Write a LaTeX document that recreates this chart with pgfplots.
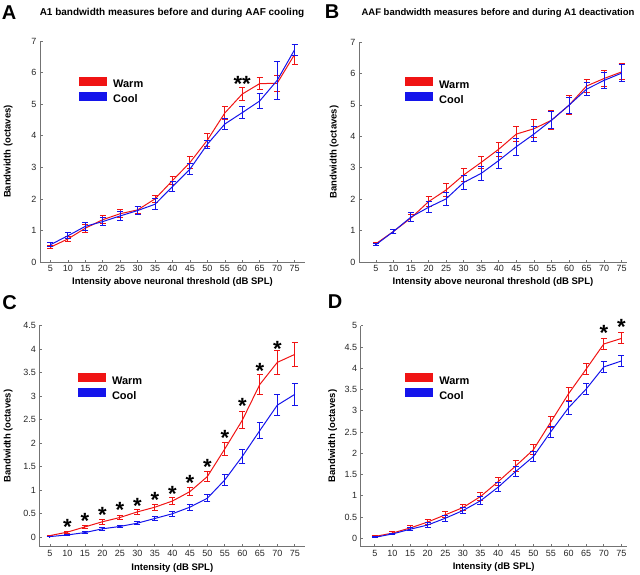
\documentclass[border=0pt]{standalone}
\usepackage{pgfplots}
\pgfplotsset{compat=1.18}
\usepackage{fontspec}
\setmainfont{Liberation Sans}
\setsansfont{Liberation Sans}
\definecolor{wred}{RGB}{240,20,20}
\definecolor{cblue}{RGB}{20,20,235}
\pgfplotsset{
  panel/.style={
    scale only axis, clip=false,
    axis lines*=left, tick align=inside, major tick length=2.5pt,
    axis line style={black!55, line width=0.6pt},
    tick style={black!55, line width=0.6pt},
    xtick={5,10,...,75},
    tick label style={font=\fontsize{9}{10}\selectfont, text=black!85},
    /pgf/number format/assume math mode=true,
    label style={font=\bfseries\fontsize{9.5}{11}\selectfont},
    xlabel style={at={(axis description cs:0.5,0)}, anchor=center, yshift=-20pt},
    legend style={draw=none, fill=none, font=\bfseries\fontsize{11}{13}\selectfont, anchor=north west, row sep=1pt, inner sep=0pt, nodes={inner sep=1.5pt}},
    legend cell align=left,
    legend image code/.code={\draw[line width=9pt] (0pt,0.35em) -- (28pt,0.35em);},
  },
  warm/.style={wred, line width=1pt, mark=none, error bars/.cd, y dir=both, y explicit, error bar style={line width=1pt, draw=wred}, error mark options={color=wred, draw=wred, mark size=3pt, line width=1pt, rotate=90}},
  cool/.style={cblue, line width=1pt, mark=none, error bars/.cd, y dir=both, y explicit, error bar style={line width=1pt, draw=cblue}, error mark options={color=cblue, draw=cblue, mark size=3pt, line width=1pt, rotate=90}},
  stars/.style={draw=none, mark=none, nodes near coords, point meta=explicit symbolic, every node near coord/.style={anchor=base, yshift=-12pt, font=\bfseries\fontsize{22}{22}\selectfont, text=black, inner sep=0pt}},
}
\begin{document}
\begin{tikzpicture}
\path[use as bounding box] (0pt,0pt) rectangle (640pt,574pt);
% ---------------- A
\begin{axis}[panel, at={(40pt,312pt)}, anchor=south west, width=265pt, height=221pt,
  xmin=2, xmax=78, ymin=0, ymax=7, ytick={0,1,...,7},
  xlabel={Intensity above neuronal threshold (dB SPL)}, ylabel={Bandwidth (octaves)},
  ylabel style={at={(axis description cs:-0.12,0.5)}, anchor=center},
  legend style={at={(0.13,0.84)}}]
\addplot[warm] coordinates {
(5,0.47) +- (0,0.05) (10,0.73) +- (0,0.07) (15,1.07) +- (0,0.13) (20,1.34) +- (0,0.12)
(25,1.53) +- (0,0.12) (30,1.65) +- (0,0.10) (35,2.00) +- (0,0.12) (40,2.58) +- (0,0.12)
(45,3.15) +- (0,0.20) (50,3.86) +- (0,0.20) (55,4.72) +- (0,0.20) (60,5.32) +- (0,0.22)
(65,5.65) +- (0,0.20) (70,5.66) +- (0,0.25) (75,6.57) +- (0,0.33)};
\addlegendentry{Warm}
\addplot[cool] coordinates {
(5,0.55) +- (0,0.07) (10,0.83) +- (0,0.10) (15,1.13) +- (0,0.12) (20,1.28) +- (0,0.12)
(25,1.46) +- (0,0.14) (30,1.63) +- (0,0.12) (35,1.83) +- (0,0.17) (40,2.39) +- (0,0.15)
(45,2.94) +- (0,0.17) (50,3.73) +- (0,0.12) (55,4.37) +- (0,0.18) (60,4.73) +- (0,0.20)
(65,5.10) +- (0,0.25) (70,5.75) +- (0,0.60) (75,6.72) +- (0,0.17)};
\addlegendentry{Cool}
\addplot[stars, forget plot] coordinates {(60,5.79) [**]};
\end{axis}
% ---------------- B
\begin{axis}[panel, at={(359pt,312pt)}, anchor=south west, width=268pt, height=220pt,
  xmin=0.2, xmax=76.5, ymin=0, ymax=7, ytick={0,1,...,7},
  xlabel={Intensity above neuronal threshold (dB SPL)}, ylabel={Bandwidth (octaves)},
  ylabel style={at={(axis description cs:-0.093,0.5)}, anchor=center},
  legend style={at={(0.155,0.84)}}]
\addplot[warm] coordinates {
(5,0.58) +- (0,0.04) (10,0.97) +- (0,0.07) (15,1.40) +- (0,0.12) (20,1.92) +- (0,0.15)
(25,2.29) +- (0,0.20) (30,2.77) +- (0,0.20) (35,3.17) +- (0,0.20) (40,3.59) +- (0,0.22)
(45,4.07) +- (0,0.25) (50,4.24) +- (0,0.28) (55,4.51) +- (0,0.30) (60,4.99) +- (0,0.30)
(65,5.60) +- (0,0.20) (70,5.84) +- (0,0.25) (75,6.05) +- (0,0.25)};
\addlegendentry{Warm}
\addplot[cool] coordinates {
(5,0.55) +- (0,0.04) (10,0.97) +- (0,0.06) (15,1.43) +- (0,0.15) (20,1.74) +- (0,0.17)
(25,2.01) +- (0,0.20) (30,2.53) +- (0,0.22) (35,2.82) +- (0,0.22) (40,3.23) +- (0,0.25)
(45,3.67) +- (0,0.27) (50,4.07) +- (0,0.25) (55,4.51) +- (0,0.27) (60,4.99) +- (0,0.25)
(65,5.50) +- (0,0.20) (70,5.78) +- (0,0.25) (75,6.01) +- (0,0.27)};
\addlegendentry{Cool}
\end{axis}
% ---------------- C
\begin{axis}[panel, at={(39.3pt,27.3pt)}, anchor=south west, width=266pt, height=221pt,
  xmin=2, xmax=78, ymin=-0.2, ymax=4.5, ytick={0,0.5,...,4.5},
  yticklabel style={/pgf/number format/.cd, fixed},
  xlabel={Intensity (dB SPL)}, ylabel={Bandwidth (octaves)},
  xlabel style={yshift=-1.5pt},
  ylabel style={at={(axis description cs:-0.117,0.5)}, anchor=center},
  legend style={at={(0.128,0.785)}}]
\addplot[warm] coordinates {
(5,0.035) +- (0,0.01) (10,0.11) +- (0,0.02) (15,0.22) +- (0,0.04) (20,0.33) +- (0,0.05)
(25,0.42) +- (0,0.05) (30,0.54) +- (0,0.05) (35,0.64) +- (0,0.06) (40,0.77) +- (0,0.07)
(45,0.97) +- (0,0.08) (50,1.29) +- (0,0.10) (55,1.88) +- (0,0.14) (60,2.49) +- (0,0.18)
(65,3.25) +- (0,0.21) (70,3.72) +- (0,0.25) (75,3.89) +- (0,0.25)};
\addlegendentry{Warm}
\addplot[cool] coordinates {
(5,0.015) +- (0,0.005) (10,0.05) +- (0,0.01) (15,0.10) +- (0,0.02) (20,0.18) +- (0,0.03)
(25,0.23) +- (0,0.03) (30,0.30) +- (0,0.03) (35,0.40) +- (0,0.04) (40,0.50) +- (0,0.05)
(45,0.64) +- (0,0.06) (50,0.83) +- (0,0.07) (55,1.22) +- (0,0.11) (60,1.72) +- (0,0.14)
(65,2.27) +- (0,0.17) (70,2.81) +- (0,0.22) (75,3.04) +- (0,0.23)};
\addlegendentry{Cool}
\addplot[stars, forget plot] coordinates {
(10,0.32) [*] (15,0.44) [*] (20,0.56) [*] (25,0.67) [*] (30,0.76) [*] (35,0.89) [*]
(40,1.02) [*] (45,1.25) [*] (50,1.59) [*] (55,2.21) [*] (60,2.88) [*] (65,3.63) [*] (70,4.10) [*]};
\end{axis}
% ---------------- D
\begin{axis}[panel, at={(360.7pt,27.3pt)}, anchor=south west, width=266pt, height=221pt,
  xmin=1, xmax=76.5, ymin=-0.2, ymax=5, ytick={0,0.5,...,5},
  yticklabel style={/pgf/number format/.cd, fixed},
  xlabel={Intensity (dB SPL)}, ylabel={Bandwidth (octaves)},
  ylabel style={at={(axis description cs:-0.105,0.5)}, anchor=center},
  legend style={at={(0.15,0.785)}}]
\addplot[warm] coordinates {
(5,0.04) +- (0,0.02) (10,0.12) +- (0,0.03) (15,0.24) +- (0,0.05) (20,0.38) +- (0,0.05)
(25,0.55) +- (0,0.07) (30,0.72) +- (0,0.07) (35,0.98) +- (0,0.10) (40,1.33) +- (0,0.10)
(45,1.70) +- (0,0.12) (50,2.08) +- (0,0.12) (55,2.74) +- (0,0.13) (60,3.40) +- (0,0.15)
(65,3.98) +- (0,0.12) (70,4.57) +- (0,0.12) (75,4.70) +- (0,0.13)};
\addlegendentry{Warm}
\addplot[cool] coordinates {
(5,0.02) +- (0,0.01) (10,0.10) +- (0,0.02) (15,0.21) +- (0,0.04) (20,0.31) +- (0,0.05)
(25,0.47) +- (0,0.07) (30,0.65) +- (0,0.07) (35,0.88) +- (0,0.09) (40,1.20) +- (0,0.10)
(45,1.57) +- (0,0.12) (50,1.92) +- (0,0.12) (55,2.51) +- (0,0.13) (60,3.07) +- (0,0.15)
(65,3.51) +- (0,0.13) (70,4.03) +- (0,0.13) (75,4.17) +- (0,0.13)};
\addlegendentry{Cool}
\addplot[stars, forget plot] coordinates {(70,4.94) [*] (75,5.08) [*]};
\end{axis}
% ---------------- titles and panel letters
\node[font=\bfseries\fontsize{10}{11}\selectfont] at (172pt,561pt) {A1 bandwidth measures before and during AAF cooling};
\node[font=\bfseries\fontsize{9.5}{11}\selectfont] at (498pt,561pt) {AAF bandwidth measures before and during A1 deactivation};
\node[font=\bfseries\fontsize{20}{20}\selectfont] at (9pt,561pt) {A};
\node[font=\bfseries\fontsize{20}{20}\selectfont] at (332pt,562pt) {B};
\node[font=\bfseries\fontsize{20}{20}\selectfont] at (9.5pt,271.5pt) {C};
\node[font=\bfseries\fontsize{20}{20}\selectfont] at (335pt,272pt) {D};
\end{tikzpicture}
\end{document}
